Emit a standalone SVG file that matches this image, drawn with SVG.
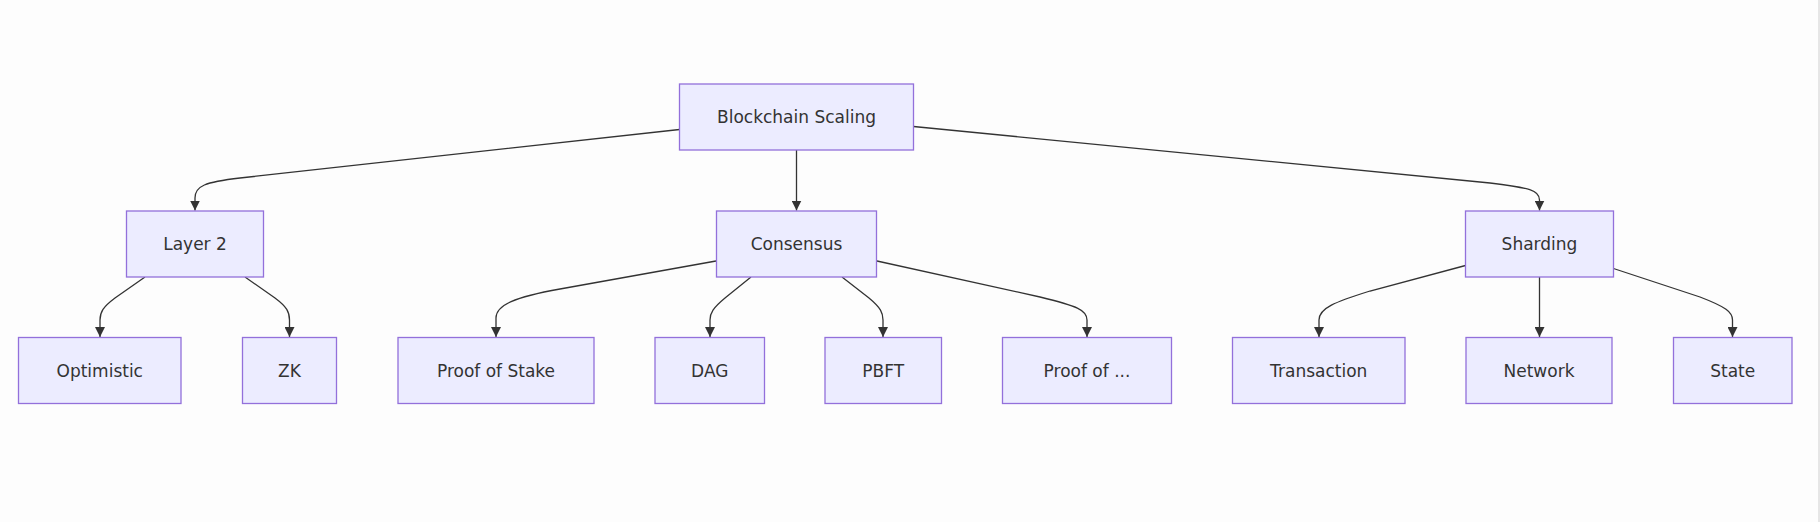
<svg xmlns="http://www.w3.org/2000/svg" width="1820" height="522" viewBox="0 0 1820 522">
<defs>
<style>
.node rect{fill:#ECECFF;stroke:#9370DB;stroke-width:1.3}
.node text{font-family:"DejaVu Sans",sans-serif;font-size:17px;fill:#333;text-anchor:middle}
.edges path{fill:none;stroke:#333;stroke-width:1.3}
</style>
<marker id="arrow" viewBox="0 0 10 10" refX="10" refY="5" markerUnits="userSpaceOnUse" markerWidth="10" markerHeight="10" orient="auto">
<path d="M0,0 L10,5 L0,10 z" fill="#333"/>
</marker>
</defs>
<rect x="0" y="0" width="1820" height="522" fill="#fdfdfd"/>
<rect x="1818" y="0" width="2" height="522" fill="#e6e6e6"/>
<g class="edges">
<path marker-end="url(#arrow)" d="M679.5,129.5 L240,178 C205,182 195,186 195,198 L195,210.5"/>
<path marker-end="url(#arrow)" d="M796.5,150 L796.5,210.5"/>
<path marker-end="url(#arrow)" d="M913.5,126.5 L1490,183 C1530,188 1539.5,190 1539.5,200 L1539.5,210.5"/>
<path marker-end="url(#arrow)" d="M145,277 L115,298 C103,307 100,312 100,320 L100,337"/>
<path marker-end="url(#arrow)" d="M245,277 L275,298 C287,307 289.5,312 289.5,320 L289.5,337"/>
<path marker-end="url(#arrow)" d="M716,261 L560,289 C515,297 496,305 496,318 L496,337"/>
<path marker-end="url(#arrow)" d="M751,277 L725,298 C713,308 710,313 710,320 L710,337"/>
<path marker-end="url(#arrow)" d="M842,277 L869,298 C881,308 883,313 883,320 L883,337"/>
<path marker-end="url(#arrow)" d="M877,261 L1040,297 C1077,306 1087,310 1087,320 L1087,337"/>
<path marker-end="url(#arrow)" d="M1465.5,265.5 L1370,291 C1335,302 1319,308 1319,320 L1319,337"/>
<path marker-end="url(#arrow)" d="M1539.5,277 L1539.5,337"/>
<path marker-end="url(#arrow)" d="M1613.5,268.5 L1700,297 C1726,307 1732.5,312 1732.5,320 L1732.5,337"/>
</g>
<g id="root" class="node"><rect x="679.5" y="84" width="234" height="66"/><text x="796.5" y="123">Blockchain Scaling</text></g>
<g id="layer2" class="node"><rect x="126.5" y="211" width="137" height="66"/><text x="195" y="250">Layer 2</text></g>
<g id="consensus" class="node"><rect x="716.5" y="211" width="160" height="66"/><text x="796.5" y="250">Consensus</text></g>
<g id="sharding" class="node"><rect x="1465.5" y="211" width="148" height="66"/><text x="1539.5" y="250">Sharding</text></g>
<g id="optimistic" class="node"><rect x="18.5" y="337.5" width="162.5" height="66"/><text x="99.75" y="376.5">Optimistic</text></g>
<g id="zk" class="node"><rect x="242.5" y="337.5" width="94" height="66"/><text x="289.5" y="376.5">ZK</text></g>
<g id="pos" class="node"><rect x="398" y="337.5" width="196" height="66"/><text x="496" y="376.5">Proof of Stake</text></g>
<g id="dag" class="node"><rect x="655" y="337.5" width="109.5" height="66"/><text x="709.75" y="376.5">DAG</text></g>
<g id="pbft" class="node"><rect x="825" y="337.5" width="116.5" height="66"/><text x="883.25" y="376.5">PBFT</text></g>
<g id="proofof" class="node"><rect x="1002.5" y="337.5" width="169" height="66"/><text x="1087" y="376.5">Proof of ...</text></g>
<g id="transaction" class="node"><rect x="1232.5" y="337.5" width="172.5" height="66"/><text x="1318.75" y="376.5">Transaction</text></g>
<g id="network" class="node"><rect x="1466" y="337.5" width="146" height="66"/><text x="1539" y="376.5">Network</text></g>
<g id="state" class="node"><rect x="1673.5" y="337.5" width="118.5" height="66"/><text x="1732.75" y="376.5">State</text></g>
</svg>
